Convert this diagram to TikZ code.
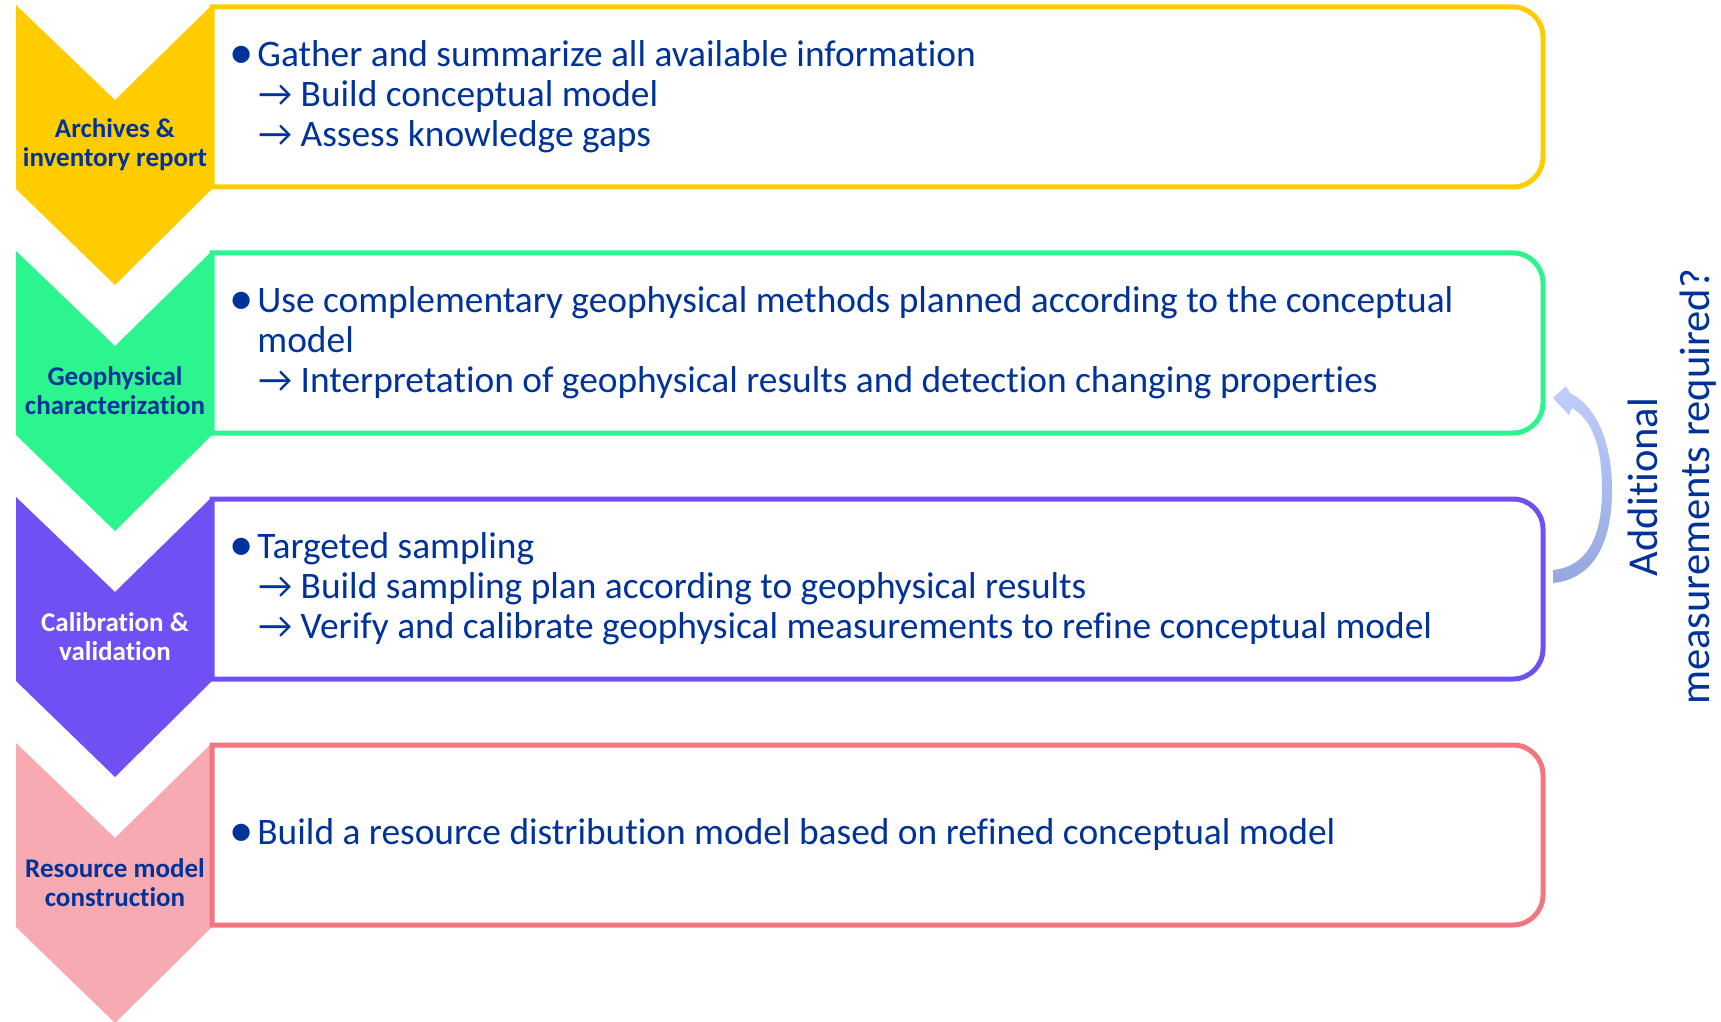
\documentclass[tikz,border=0pt]{standalone}
\usepackage{fontspec}
\setmainfont{Carlito}[Ligatures=NoCommon]
\usepackage{tikz}
\definecolor{archyellow}{RGB}{255,204,0}
\definecolor{geogreen}{RGB}{44,245,143}
\definecolor{calpurple}{RGB}{112,80,242}
\definecolor{respink}{RGB}{247,170,177}
\definecolor{resred}{RGB}{242,117,128}
\definecolor{stepblue}{RGB}{0,51,153}
\definecolor{looptop}{RGB}{184,200,250}
\definecolor{loopbottom}{RGB}{138,158,222}

\newcommand{\bul}{\makebox[14pt][l]{\raisebox{-1pt}{\scalebox{1.3}{\textbullet}}}}
\newcommand{\arr}{\hspace*{14.5pt}→\ }

\begin{document}
\begin{tikzpicture}[x=0.5pt,y=-0.5pt,
  steplabel/.style={align=center,text=stepblue,font=\fontsize{13.5}{14.5}\selectfont\bfseries},
  steptext/.style={anchor=west,inner sep=0pt,align=left,text=stepblue,font=\fontsize{18.7}{20}\selectfont},
  stepline/.style={line width=2.5pt}]
\useasboundingbox (0,0) rectangle (1721,1022);

% chevrons with their boxes
\foreach \t/\c/\l in {5/archyellow/archyellow,251/geogreen/geogreen,497/calpurple/calpurple,743/respink/resred}{
  \fill[\c] (16,\t) -- (115,\t+95) -- (212,\t) -- (212,\t+184) -- (115,\t+280) -- (16,\t+184) -- cycle;
  \draw[stepline,\l] (212,\t+2) -- (1513,\t+2) arc[start angle=-90,end angle=0,radius=30]
    -- (1543,\t+152) arc[start angle=0,end angle=90,radius=30] -- (212,\t+182) -- cycle;
}

\node[steplabel] (archlabel) at (115,145) {Archives \&\\inventory report};
\node[steplabel] (geolabel) at (115,391) {Geophysical\\characterization};
\node[steplabel,text=white] (callabel) at (115,637) {Calibration \&\\validation};
\node[steplabel] (reslabel) at (115,883) {Resource model\\construction};

\node[steptext] (archtext) at (229,97) {\bul Gather and summarize all available information\\
  \arr Build conceptual model\\
  \arr Assess knowledge gaps};
\node[steptext] (geotext) at (229,343) {\bul Use complementary geophysical methods planned according to the conceptual\\
  \hspace*{14pt}model\\
  \arr Interpretation of geophysical results and detection changing properties};
\node[steptext] (caltext) at (229,589) {\bul Targeted sampling\\
  \arr Build sampling plan according to geophysical results\\
  \arr Verify and calibrate geophysical measurements to refine conceptual model};
\node[steptext] (restext) at (229,835) {\bul Build a resource distribution model based on refined conceptual model};

% loop back from calibration to geophysics
\coordinate (loopfoot) at (1553,583);
\coordinate (looptip) at (1553,398);
\shade[top color=looptop,bottom color=loopbottom,opacity=0.9]
  (loopfoot) .. controls (1585,580) and (1612,555) .. (1612,490)
  .. controls (1612,440) and (1595,405) .. (1570,393)
  -- (1566,386) -- (looptip) -- (1569,415) -- (1572,408)
  .. controls (1592,420) and (1602,445) .. (1602,490)
  .. controls (1602,540) and (1585,567) .. (1553,570) -- cycle;

\node[rotate=90,align=center,text=stepblue,font=\fontsize{21.3}{26}\selectfont] (asktext) at (1672,487)
  {Additional\\measurements required?};
\end{tikzpicture}
\end{document}
